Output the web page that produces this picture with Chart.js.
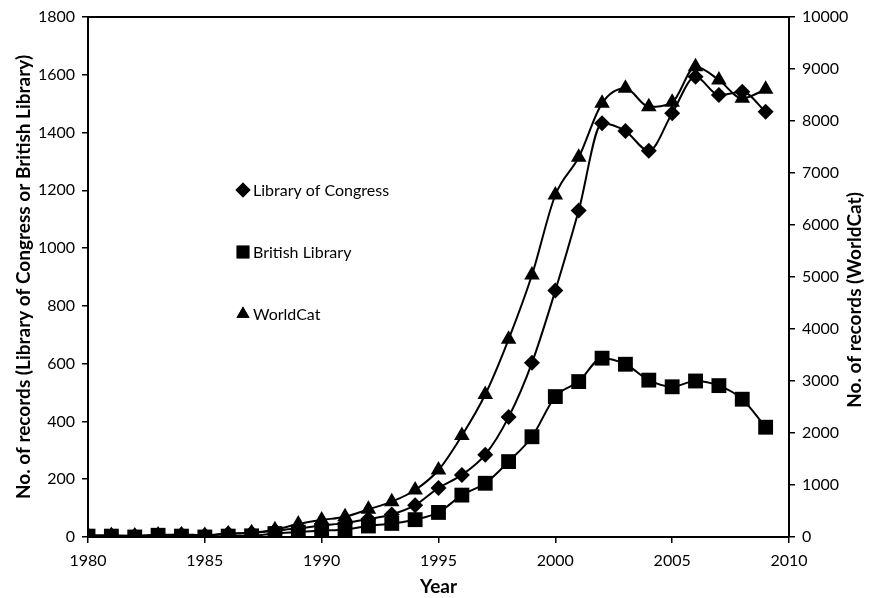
<!DOCTYPE html>
<html>
<head>
<meta charset="utf-8">
<script src="https://cdn.jsdelivr.net/npm/chart.js@4"></script>
<style>
  html, body { margin: 0; padding: 0; background: #fff; }
  #wrap { width: 874px; height: 598px; position: relative; }
</style>
</head>
<body>
<div id="wrap"><canvas id="c" width="874" height="598"></canvas></div>
<script>
const years = [1980,1981,1982,1983,1984,1985,1986,1987,1988,1989,1990,1991,1992,1993,1994,1995,1996,1997,1998,1999,2000,2001,2002,2003,2004,2005,2006,2007,2008,2009];
const libraryOfCongress = [5,5,4,7,9,6,12,14,22,30,40,48,62,78,110,170,215,285,415,603,853,1130,1432,1405,1337,1467,1593,1530,1541,1472];
const britishLibrary = [3,3,0,6,3,0,3,4,12,17,22,26,38,47,60,85,145,186,261,347,486,538,619,598,543,520,540,524,477,380];
const worldCat = [30,30,20,40,40,30,60,80,140,250,327,390,532,680,904,1288,1950,2740,3802,5038,6577,7302,8340,8628,8275,8360,9044,8788,8436,8609];
const leftTicks = {min: 0, max: 1800, step: 200};
const rightTicks = {min: 0, max: 10000, step: 1000};
const xTicks = {min: 1980, max: 2010, step: 5};
const seriesNames = ['Library of Congress', 'British Library', 'WorldCat'];

const FONT = 'Lato, "Open Sans", sans-serif';

function pts(arr) { return years.map((y, i) => ({x: y, y: arr[i]})); }

const styles = [
  {pointStyle: 'rectRot', radius: 8},
  {pointStyle: 'rect', radius: 10.5},
  {pointStyle: 'triangle', radius: 9}
];

const extras = {
  id: 'extras',
  afterDraw(chart) {
    const ctx = chart.ctx;
    const a = chart.chartArea;
    ctx.save();
    ctx.strokeStyle = '#000';
    ctx.lineWidth = 2;
    ctx.beginPath();
    ctx.moveTo(a.left, a.top);
    ctx.lineTo(a.right, a.top);
    ctx.stroke();
    ctx.fillStyle = '#000';
    ctx.font = 'bold 19px ' + FONT;
    ctx.textAlign = 'center';
    ctx.textBaseline = 'middle';
    ctx.translate(855, 300);
    ctx.rotate(-Math.PI / 2);
    ctx.fillText('No. of records (WorldCat)', 0, 0);
    ctx.restore();

    ctx.save();
    const lx = 243, ly = [190, 252, 314];
    ctx.font = '16px ' + FONT;
    ctx.fillStyle = '#000';
    ctx.textBaseline = 'middle';
    ctx.textAlign = 'left';
    seriesNames.forEach((name, i) => {
      Chart.helpers.drawPoint(ctx, {pointStyle: styles[i].pointStyle, radius: i === 1 ? 9 : 7.5, rotation: 0, borderWidth: 0}, lx, ly[i]);
      ctx.fillStyle = '#000';
      ctx.fill();
      ctx.fillText(name, lx + 10, ly[i] + 1);
    });
    ctx.restore();
  }
};

new Chart(document.getElementById('c'), {
  type: 'line',
  data: {
    datasets: [
      {label: seriesNames[0], data: pts(libraryOfCongress), yAxisID: 'y'},
      {label: seriesNames[1], data: pts(britishLibrary), yAxisID: 'y'},
      {label: seriesNames[2], data: pts(worldCat), yAxisID: 'y2'}
    ].map((d, i) => Object.assign(d, {
      borderColor: '#000',
      backgroundColor: '#000',
      pointBackgroundColor: '#000',
      pointBorderColor: '#000',
      borderWidth: 2,
      pointBorderWidth: 0,
      pointStyle: styles[i].pointStyle,
      pointRadius: styles[i].radius,
      cubicInterpolationMode: 'monotone',
      fill: false
    }))
  },
  options: {
    responsive: false,
    animation: false,
    devicePixelRatio: 1,
    layout: {padding: {top: 17, left: 12, right: 0, bottom: 0}},
    plugins: {legend: {display: false}, tooltip: {enabled: false}},
    scales: {
      x: {
        type: 'linear',
        min: xTicks.min, max: xTicks.max,
        ticks: {stepSize: xTicks.step, color: '#000', font: {family: FONT, size: 16}, padding: 8, callback: v => String(v)},
        grid: {drawOnChartArea: false, drawTicks: true, tickLength: 6, color: '#000', lineWidth: 1.5},
        border: {display: true, color: '#000', width: 2},
        title: {display: true, text: 'Year', color: '#000', font: {family: FONT, size: 19, weight: 'bold'}, padding: {top: 0, bottom: 0}},
        afterFit(s) { s.height = 61; }
      },
      y: {
        position: 'left',
        min: leftTicks.min, max: leftTicks.max,
        ticks: {stepSize: leftTicks.step, color: '#000', font: {family: FONT, size: 16}, padding: 7, callback: v => String(v)},
        grid: {drawOnChartArea: false, drawTicks: true, tickLength: 6, color: '#000', lineWidth: 1.5},
        border: {display: true, color: '#000', width: 2},
        title: {display: true, text: 'No. of records (Library of Congress or British Library)', color: '#000', font: {family: FONT, size: 19, weight: 'bold'}, padding: {top: 0, bottom: 0}},
        afterFit(s) { s.width = 76; }
      },
      y2: {
        position: 'right',
        min: rightTicks.min, max: rightTicks.max,
        ticks: {stepSize: rightTicks.step, color: '#000', font: {family: FONT, size: 16}, padding: 7, callback: v => String(v)},
        grid: {drawOnChartArea: false, drawTicks: true, tickLength: 6, color: '#000', lineWidth: 1.5},
        border: {display: true, color: '#000', width: 2},
        afterFit(s) { s.width = 85; }
      }
    }
  },
  plugins: [extras]
});
</script>
</body>
</html>
